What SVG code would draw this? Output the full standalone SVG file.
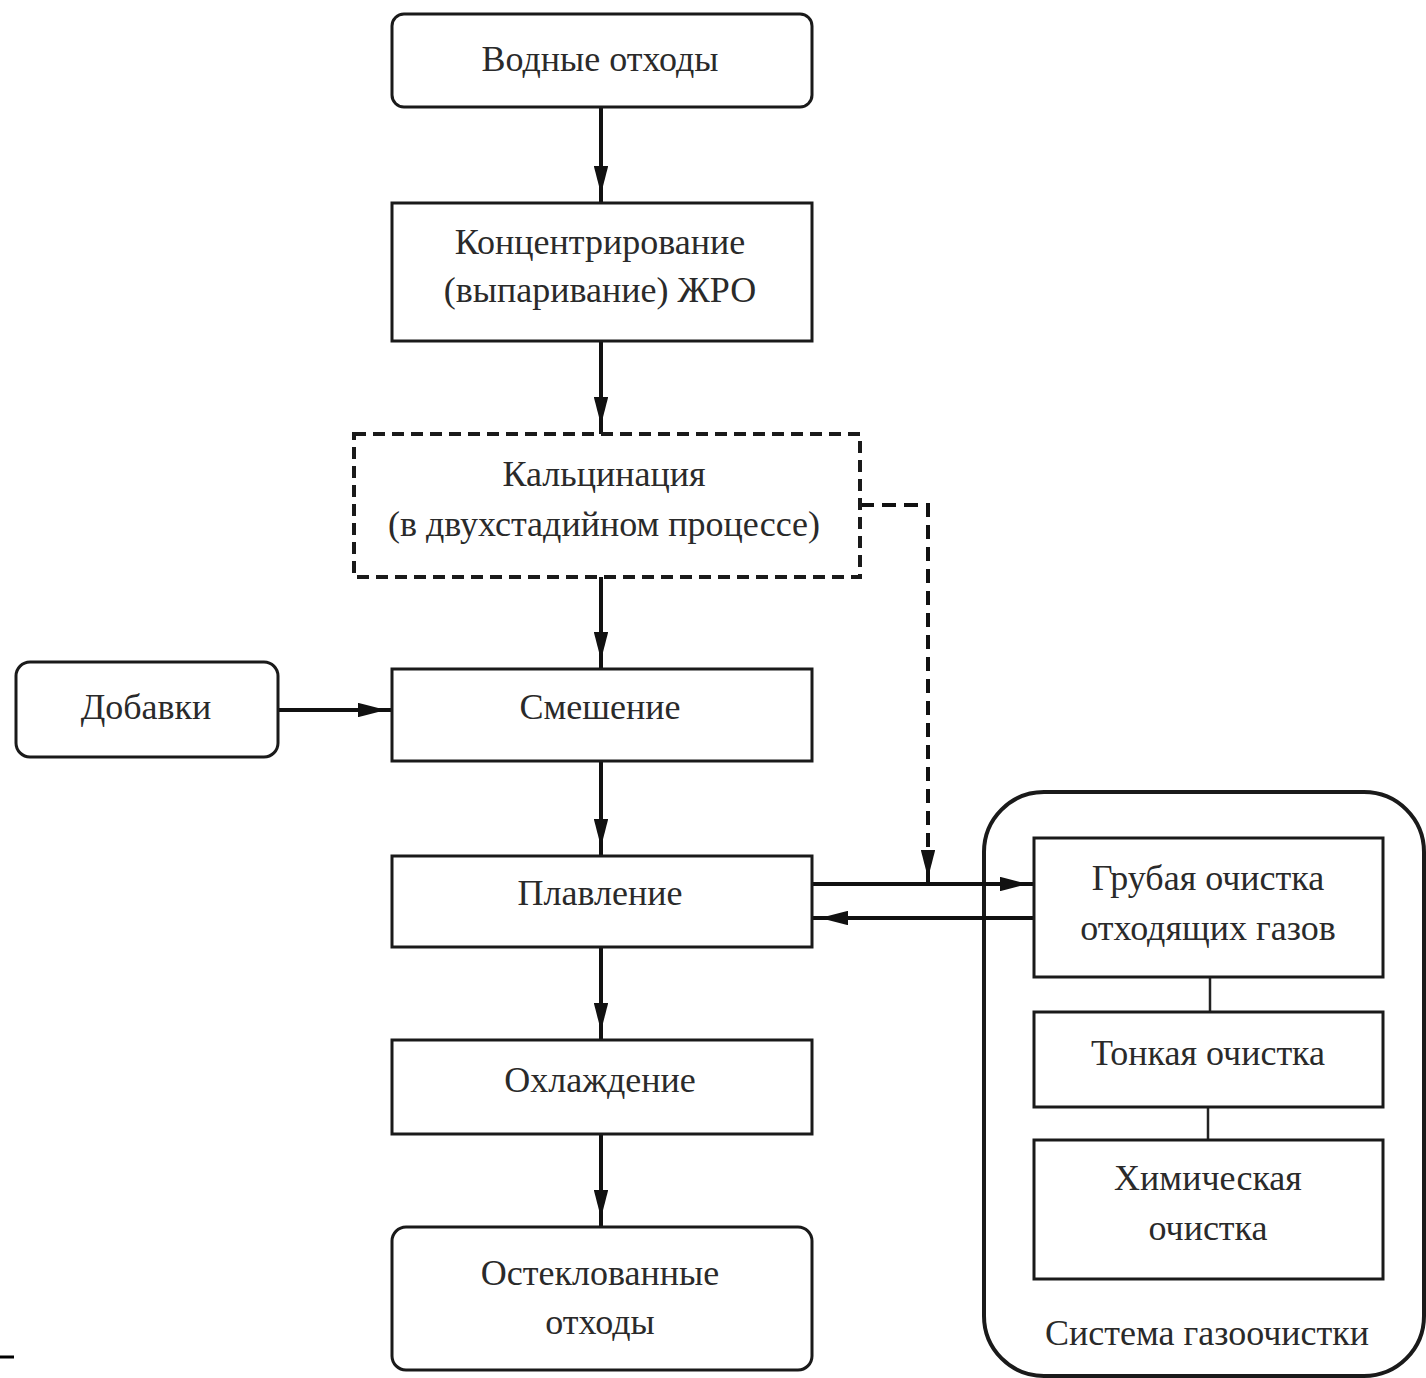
<svg xmlns="http://www.w3.org/2000/svg" width="1426" height="1378" viewBox="0 0 1426 1378">
<style>
.box{fill:#fff;stroke:#1a1a1a;stroke-width:3}
.dash{fill:#fff;stroke:#1a1a1a;stroke-width:4;stroke-dasharray:12 7}
.t{font-family:"Liberation Serif","Times New Roman",serif;font-size:36px;fill:#2a2a2a;text-anchor:middle}
.c{fill:none;stroke:#111;stroke-width:4}
.cd{fill:none;stroke:#111;stroke-width:4;stroke-dasharray:14 8}
.thin{fill:none;stroke:#222;stroke-width:2.5}
</style>
<defs>
<marker id="ah" viewBox="0 0 10 10" refX="10" refY="5" markerWidth="7" markerHeight="3.6" markerUnits="strokeWidth" orient="auto" preserveAspectRatio="none">
<path d="M0,0 L10,5 L0,10 z" fill="#111"/>
</marker>
</defs>
<rect width="1426" height="1378" fill="#fff"/>

<g id="container">
<rect x="984" y="792" width="440" height="584" rx="60" ry="60" fill="#fff" stroke="#1a1a1a" stroke-width="4"/>
<text class="t" x="1207" y="1345">Система газоочистки</text>
</g>

<g id="connectors">
<path class="c" d="M601,107 L601,194 L601,203" marker-mid="url(#ah)"/>
<path class="c" d="M601,341 L601,425 L601,434" marker-mid="url(#ah)"/>
<path class="c" d="M601,577 L601,660 L601,669" marker-mid="url(#ah)"/>
<path class="c" d="M601,761 L601,847 L601,856" marker-mid="url(#ah)"/>
<path class="c" d="M601,947 L601,1031 L601,1040" marker-mid="url(#ah)"/>
<path class="c" d="M601,1134 L601,1218 L601,1227" marker-mid="url(#ah)"/>
<path class="c" d="M278,710 L386,710 L392,710" marker-mid="url(#ah)"/>
<path class="c" d="M812,884 L1028,884 L1034,884" marker-mid="url(#ah)"/>
<path class="c" d="M1034,918 L820,918 L812,918" marker-mid="url(#ah)"/>
<path class="cd" d="M860,505 L928,505 L928,868"/>
<path class="c" d="M928,856 L928,878 L928,884" marker-mid="url(#ah)"/>
<line class="thin" x1="1210" y1="977" x2="1210" y2="1012"/>
<line class="thin" x1="1208" y1="1107" x2="1208" y2="1140"/>
<line x1="0" y1="1357" x2="14" y2="1357" stroke="#000" stroke-width="3"/>
</g>

<g id="n1">
<rect class="box" x="392" y="14" width="420" height="93" rx="12"/>
<text class="t" x="600" y="71">Водные отходы</text>
</g>
<g id="n2">
<rect class="box" x="392" y="203" width="420" height="138"/>
<text class="t" x="600" y="254">Концентрирование</text>
<text class="t" x="600" y="302">(выпаривание) ЖРО</text>
</g>
<g id="n3">
<rect class="dash" x="354" y="434" width="506" height="143"/>
<text class="t" x="604" y="486">Кальцинация</text>
<text class="t" x="604" y="536">(в двухстадийном процессе)</text>
</g>
<g id="n4">
<rect class="box" x="392" y="669" width="420" height="92"/>
<text class="t" x="600" y="719">Смешение</text>
</g>
<g id="n5">
<rect class="box" x="16" y="662" width="262" height="95" rx="14"/>
<text class="t" x="146" y="719">Добавки</text>
</g>
<g id="n6">
<rect class="box" x="392" y="856" width="420" height="91"/>
<text class="t" x="600" y="905">Плавление</text>
</g>
<g id="n7">
<rect class="box" x="392" y="1040" width="420" height="94"/>
<text class="t" x="600" y="1092">Охлаждение</text>
</g>
<g id="n8">
<rect class="box" x="392" y="1227" width="420" height="143" rx="14"/>
<text class="t" x="600" y="1285">Остеклованные</text>
<text class="t" x="600" y="1334">отходы</text>
</g>
<g id="n9">
<rect class="box" x="1034" y="838" width="349" height="139"/>
<text class="t" x="1208" y="890">Грубая очистка</text>
<text class="t" x="1208" y="940">отходящих газов</text>
</g>
<g id="n10">
<rect class="box" x="1034" y="1012" width="349" height="95"/>
<text class="t" x="1208" y="1065">Тонкая очистка</text>
</g>
<g id="n11">
<rect class="box" x="1034" y="1140" width="349" height="139"/>
<text class="t" x="1208" y="1190">Химическая</text>
<text class="t" x="1208" y="1240">очистка</text>
</g>
</svg>
